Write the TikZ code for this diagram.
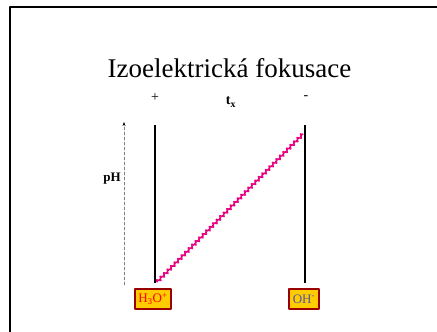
\documentclass[tikz,border=0pt]{standalone}
\usepackage{fontspec}
\setmainfont{Liberation Serif}
\usetikzlibrary{decorations.pathmorphing,arrows.meta}
\definecolor{boxgold}{HTML}{FFCC00}
\definecolor{boxred}{HTML}{990000}
\definecolor{ionblue}{HTML}{5555AA}

\begin{document}
\begin{tikzpicture}[x=1pt,y=-1pt,line cap=round,line join=round]
  \useasboundingbox (0,0) rectangle (437,332);
  \coordinate (TL) at (10,7);
  \coordinate (TR) at (438,7);
  \coordinate (BL) at (10,333);
  \coordinate (A1) at (155,125);
  \coordinate (A2) at (155,283);
  \coordinate (K1) at (305,125);
  \coordinate (K2) at (305,283);
  \coordinate (P1) at (124,285);
  \coordinate (P2) at (124,122);
  \coordinate (G1) at (157,282);
  \coordinate (G2) at (303,134);
  \draw[line width=2pt,line cap=butt] (BL) -- (TL) -- (TR);
  \node[anchor=base,font=\fontsize{27}{30}\selectfont] (title) at (229.5,77) {Izoelektrická fokusace};
  \node[font=\fontsize{14}{15}\selectfont] (plus) at (155,98) {+};
  \node[font=\fontsize{14}{15}\selectfont] (minus) at (306,98) {-};
  \node[font=\fontsize{14}{15}\selectfont\bfseries] (tx) at (231,102) {t\textsubscript{x}};
  \node[font=\fontsize{13}{14}\selectfont\bfseries] (pH) at (112,179) {pH};
  \draw[line width=0.5pt,gray,densely dashed,-{Stealth[length=4pt,width=3pt,black]}] (P1) -- (P2);
  \draw[line width=2pt,line cap=butt] (A1) -- (A2);
  \draw[line width=2pt,line cap=butt] (K1) -- (K2);
  \draw[line width=0.7pt,boxred] (G1) -- (G2);
  \draw[line width=1.4pt,magenta,decorate,decoration={zigzag,segment length=5pt,amplitude=1.8pt}] (G1) -- (G2);
  \node[draw=boxred,fill=boxgold,line width=1.3pt,minimum width=36pt,minimum height=20pt,inner sep=1pt,text=red,font=\fontsize{13}{14}\selectfont] (acid) at (153,299) {H\textsubscript{3}O\textsuperscript{+}};
  \node[draw=boxred,fill=boxgold,line width=1.3pt,minimum width=30pt,minimum height=20pt,inner sep=1pt,text=ionblue,font=\fontsize{13}{14}\selectfont] (base) at (304,299) {OH\textsuperscript{-}};
\end{tikzpicture}
\end{document}
